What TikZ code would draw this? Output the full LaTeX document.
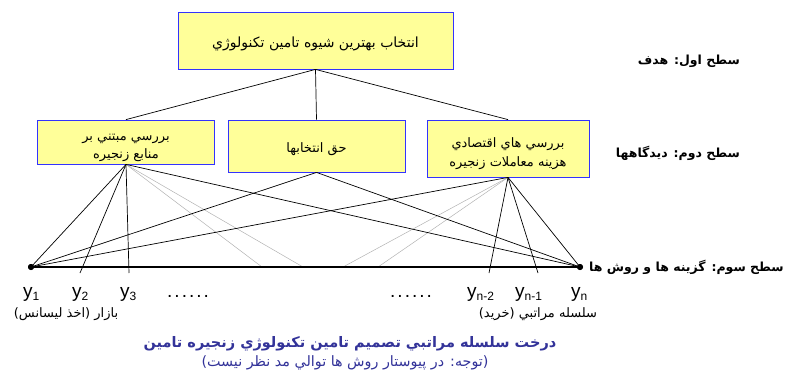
\documentclass[tikz,border=0pt]{standalone}
\usepackage{fontspec}
\setmainfont{Liberation Sans}
\newfontfamily\arabicfont[Script=Arabic]{DejaVu Sans}
\TeXXeTstate=1
\definecolor{boxfill}{HTML}{FFFF99}
\definecolor{boxdraw}{HTML}{3333FF}
\definecolor{capblue}{HTML}{333399}
\begin{document}
\begin{tikzpicture}[x=1pt,y=-1pt,
 box/.style={draw=boxdraw, fill=boxfill, line width=0.8pt, inner sep=0pt, align=center, font=\arabicfont\fontsize{13}{18.5}\selectfont},
 link/.style={line width=0.7pt},
 faint/.style={gray!60, line width=0.5pt},
 dotnode/.style={circle, fill=black, inner sep=0pt, minimum size=6pt},
 lvl/.style={font=\arabicfont\bfseries\fontsize{12.5}{14}\selectfont, inner sep=0pt},
 small/.style={font=\arabicfont\fontsize{13}{15}\selectfont, inner sep=0pt},
 ylab/.style={font=\fontsize{19}{19}\selectfont, anchor=base west, inner sep=0pt},
 ]
\useasboundingbox (0,0) rectangle (794,375);

% boxes
\node[box, minimum width=275pt, minimum height=57pt] (tbox) at (315.5,40.5)
  {\fontsize{14}{18}\selectfont\raisebox{-3pt}[\height][\depth]{\beginR انتخاب بهترين شيوه تامين تكنولوژي\endR}};
\node[box, minimum width=177pt, minimum height=44pt] (lbox) at (126,142)
  {\raisebox{-4pt}[\height][\depth]{\begin{tabular}{@{}c@{}}\beginR بررسي مبتني بر\endR\\\beginR منابع زنجيره\endR\end{tabular}}};
\node[box, minimum width=177pt, minimum height=52pt] (mbox) at (316.5,146)
  {\raisebox{-3pt}[\height][\depth]{\beginR حق انتخابها\endR}};
\node[box, minimum width=162pt, minimum height=57pt] (rbox) at (508,148.5)
  {\raisebox{-5pt}[\height][\depth]{\begin{tabular}{@{}c@{}}\beginR بررسي هاي اقتصادي\endR\\\beginR هزينه معاملات زنجيره\endR\end{tabular}}};

% baseline points
\node[dotnode] (y1) at (31,267) {};
\node[dotnode] (yn) at (580,267) {};
\coordinate (t2) at (80,273);
\coordinate (t3) at (129,273);
\coordinate (tn2) at (489,273);
\coordinate (tn1) at (538,273);
\coordinate (g1) at (262,267);
\coordinate (g2) at (303,267);
\coordinate (g3) at (343,267);
\coordinate (g4) at (378,267);

% connectors top level
\draw[link] (tbox.south) -- (lbox.north);
\draw[link] (tbox.south) -- (mbox.north);
\draw[link] (tbox.south) -- (rbox.north);

% faint connectors
\draw[faint] (lbox.south) -- (g1);
\draw[faint] (lbox.south) -- (g2);
\draw[faint] (rbox.south) -- (g3);
\draw[faint] (rbox.south) -- (g4);

% black connectors
\draw[link] (lbox.south) -- (y1.center);
\draw[link] (lbox.south) -- (t2);
\draw[link] (lbox.south) -- (t3);
\draw[link] (lbox.south) -- (yn.center);
\draw[link] (mbox.south) -- (y1.center);
\draw[link] (mbox.south) -- (yn.center);
\draw[link] (rbox.south) -- (y1.center);
\draw[link] (rbox.south) -- (tn2);
\draw[link] (rbox.south) -- (tn1);
\draw[link] (rbox.south) -- (yn.center);

% baseline
\draw[line width=1.8pt] (y1.center) -- (yn.center);
\node[dotnode] at (y1) {};
\node[dotnode] at (yn) {};

% y labels
\node[ylab] (ly1) at (23,297) {y{\fontsize{12}{12}\selectfont\raisebox{-3pt}{1}}};
\node[ylab] (ly2) at (72,297) {y{\fontsize{12}{12}\selectfont\raisebox{-3pt}{2}}};
\node[ylab] (ly3) at (120,297) {y{\fontsize{12}{12}\selectfont\raisebox{-3pt}{3}}};
\node[ylab] (dl) at (167,297) {.\kern2pt.\kern2pt.\kern2pt.\kern2pt.\kern2pt.};
\node[ylab] (dr) at (390,297) {.\kern2pt.\kern2pt.\kern2pt.\kern2pt.\kern2pt.};
\node[ylab] (lyn2) at (467,297) {y{\fontsize{12}{12}\selectfont\raisebox{-3pt}{n-2}}};
\node[ylab] (lyn1) at (515,297) {y{\fontsize{12}{12}\selectfont\raisebox{-3pt}{n-1}}};
\node[ylab] (lyn) at (571,297) {y{\fontsize{12}{12}\selectfont\raisebox{-3pt}{n}}};

\node[small] (leftnote) at (66,314) {\beginR بازار (اخذ ليسانس)\endR};
\node[small] (rightnote) at (538,314) {\beginR سلسله مراتبي (خريد)\endR};

% level labels
\node[lvl, anchor=east] (lv1) at (740,61) {\beginR سطح اول:  هدف\endR};
\node[lvl, anchor=east] (lv2) at (740,153) {\beginR سطح دوم: ديدگاهها\endR};
\node[lvl, anchor=west] (lv3) at (589,267) {\beginR سطح سوم: گزينه ها و روش ها\endR};

% caption
\node[font=\arabicfont\bfseries\fontsize{14.5}{17}\selectfont, text=capblue, inner sep=0pt] (cap) at (350,344)
  {\beginR درخت سلسله مراتبي تصميم تامين تكنولوژي زنجيره تامين\endR};
\node[font=\arabicfont\fontsize{14.3}{16}\selectfont, text=capblue, inner sep=0pt] (cap2) at (345,363)
  {\beginR (توجه:  در پيوستار روش ها توالي مد نظر نيست)\endR};
\end{tikzpicture}
\end{document}
